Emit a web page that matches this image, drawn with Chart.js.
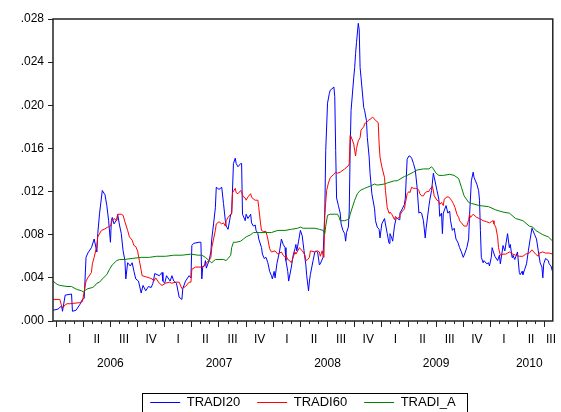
<!DOCTYPE html>
<html>
<head>
<meta charset="utf-8">
<script src="https://cdn.jsdelivr.net/npm/chart.js@4.4.1/dist/chart.umd.min.js"></script>
<style>
  html, body { margin: 0; padding: 0; background: #fff; }
  #wrap { width: 561px; height: 412px; }
</style>
</head>
<body>
<div id="wrap"><canvas id="chart" width="561" height="412"></canvas></div>
<script>
// x = months counted from the start of Jan 2006, y = value
const tradi20 = [
  [-0.35,.0010],[0.2,.0011],[0.6,.0014],[0.7,.0009],[1.0,.0024],[1.7,.0025],[1.8,.0009],[2.2,.0010],[2.6,.0015],[2.9,.0020],
  [3.1,.0021],[3.3,.0059],[3.5,.0063],[3.9,.0068],[4.2,.0076],[4.5,.0064],[4.6,.0081],[4.8,.0100],[5.1,.0121],[5.4,.0117],
  [5.6,.0107],[5.8,.0093],[6.0,.0073],[6.1,.0093],[6.2,.0096],[6.4,.0090],[6.7,.0094],[6.8,.0099],[7.0,.0089],[7.2,.0081],
  [7.4,.0065],[7.6,.0056],[7.7,.0039],[7.9,.0054],[8.2,.0051],[8.4,.0054],[8.6,.0046],[8.8,.0039],[9.1,.0037],[9.4,.0026],
  [9.6,.0033],[9.9,.0028],[10.2,.0032],[10.5,.0031],[10.7,.0035],[10.9,.0044],[11.4,.0042],[11.7,.0045],[11.8,.0037],[12.0,.0035],
  [12.2,.0042],[12.6,.0037],[12.8,.0042],[13.0,.0037],[13.3,.0035],[13.6,.0022],[13.9,.0020],[14.0,.0030],[14.3,.0037],[14.7,.0042],
  [14.9,.0040],[15.0,.0070],[15.2,.0072],[15.8,.0073],[16.0,.0073],[16.1,.0039],[16.2,.0050],[16.4,.0051],[16.5,.0056],[16.6,.0049],
  [16.9,.0056],[17.1,.0064],[17.2,.0076],[17.4,.0090],[17.6,.0105],[17.7,.0124],[18.0,.0122],[18.3,.0124],[18.5,.0109],[18.7,.0093],
  [18.8,.0088],[19.0,.0085],[19.3,.0099],[19.4,.0100],[19.6,.0146],[19.8,.0151],[19.9,.0146],[20.1,.0143],[20.4,.0146],[20.5,.0146],
  [20.6,.0099],[20.9,.0093],[21.0,.0099],[21.2,.0095],[21.5,.0099],[21.6,.0091],[21.8,.0088],[22.0,.0089],[22.1,.0084],[22.3,.0081],
  [22.4,.0076],[22.7,.0068],[22.8,.0062],[23.0,.0058],[23.2,.0059],[23.4,.0054],[23.6,.0046],[23.8,.0042],[23.9,.0039],[24.1,.0046],
  [24.2,.0040],[24.4,.0053],[24.7,.0065],[24.9,.0076],[25.1,.0071],[25.3,.0068],[25.4,.0056],[25.6,.0046],[25.7,.0037],[26.0,.0050],
  [26.2,.0061],[26.4,.0067],[26.5,.0071],[26.6,.0065],[26.8,.0074],[27.0,.0084],[27.2,.0079],[27.4,.0065],[27.6,.0052],[27.7,.0042],
  [27.9,.0028],[28.0,.0037],[28.1,.0043],[28.4,.0056],[28.6,.0064],[28.7,.0065],[28.9,.0064],[29.1,.0052],[29.2,.0053],[29.5,.0059],
  [29.7,.0102],[29.8,.0158],[30.0,.0202],[30.2,.0211],[30.3,.0214],[30.6,.0216],[30.7,.0217],[30.8,.0208],[30.9,.0158],[31.0,.0114],
  [31.2,.0107],[31.4,.0100],[31.5,.0090],[31.7,.0084],[31.9,.0081],[32.0,.0074],[32.1,.0082],[32.3,.0087],[32.4,.0102],[32.5,.0158],
  [32.6,.0195],[32.9,.0226],[33.0,.0235],[33.1,.0248],[33.2,.0258],[33.4,.0276],[33.5,.0270],[33.6,.0235],[33.7,.0226],[34.0,.0198],
  [34.1,.0195],[34.3,.0186],[34.4,.0170],[34.6,.0152],[34.7,.0137],[34.9,.0118],[35.2,.0104],[35.3,.0093],[35.5,.0087],[35.7,.0085],
  [35.8,.0077],[36.0,.0090],[36.3,.0095],[36.4,.0090],[36.6,.0081],[36.8,.0072],[36.9,.0081],[37.1,.0077],[37.2,.0074],[37.4,.0088],
  [37.6,.0096],[37.9,.0094],[38.0,.0100],[38.2,.0103],[38.5,.0108],[38.6,.0114],[38.8,.0150],[39.0,.0153],[39.1,.0153],[39.3,.0151],
  [39.5,.0146],[39.7,.0140],[39.9,.0124],[40.1,.0100],[40.2,.0101],[40.4,.0100],[40.6,.0093],[40.8,.0077],[40.9,.0086],[41.2,.0106],
  [41.3,.0112],[41.5,.0121],[41.7,.0137],[41.8,.0133],[42.1,.0121],[42.3,.0113],[42.4,.0097],[42.6,.0100],[42.7,.0081],[42.8,.0100],
  [43.1,.0107],[43.3,.0100],[43.5,.0102],[43.6,.0093],[43.8,.0084],[44.0,.0086],[44.2,.0076],[44.4,.0073],[44.6,.0068],[44.8,.0064],
  [45.0,.0059],[45.1,.0061],[45.4,.0068],[45.6,.0076],[45.7,.0098],[45.9,.0130],[46.1,.0138],[46.2,.0133],[46.5,.0127],[46.7,.0121],
  [46.8,.0112],[46.9,.0084],[47.0,.0059],[47.2,.0054],[47.3,.0056],[47.6,.0053],[47.8,.0054],[47.9,.0051],[48.1,.0059],[48.2,.0068],
  [48.3,.0065],[48.5,.0060],[48.8,.0056],[49.0,.0061],[49.1,.0053],[49.3,.0064],[49.4,.0070],[49.6,.0065],[49.9,.0081],[50.1,.0068],
  [50.2,.0071],[50.4,.0059],[50.5,.0061],[50.7,.0057],[51.0,.0064],[51.2,.0045],[51.3,.0043],[51.5,.0046],[51.6,.0043],[51.8,.0048],
  [52.0,.0053],[52.2,.0065],[52.4,.0076],[52.6,.0086],[52.7,.0084],[52.9,.0080],[53.1,.0076],[53.3,.0065],[53.5,.0054],[53.7,.0050],
  [53.8,.0040],[53.9,.0053],[54.1,.0058],[54.4,.0056],[54.5,.0053],[54.7,.0051],[54.9,.0045]
];

const tradi60 = [
  [-0.35,.0020],[0.4,.0020],[0.6,.0014],[0.7,.0012],[1.0,.0015],[1.2,.0016],[1.5,.0016],[2.6,.0017],[2.9,.0018],[3.3,.0037],
  [3.5,.0040],[3.9,.0045],[4.0,.0053],[4.2,.0059],[4.5,.0070],[4.6,.0078],[5.0,.0084],[5.3,.0085],[5.7,.0087],[6.0,.0088],
  [6.2,.0093],[6.4,.0095],[6.7,.0093],[6.8,.0099],[7.2,.0099],[7.4,.0098],[7.6,.0092],[7.9,.0084],[8.1,.0078],[8.4,.0075],
  [8.6,.0070],[8.8,.0069],[9.0,.0065],[9.2,.0056],[9.4,.0047],[9.5,.0042],[9.9,.0041],[10.3,.0040],[10.6,.0039],[10.8,.0037],
  [11.0,.0040],[11.4,.0035],[11.7,.0033],[12.1,.0035],[12.5,.0036],[12.8,.0035],[13.2,.0036],[13.6,.0036],[13.9,.0030],[14.3,.0032],
  [14.7,.0036],[14.9,.0036],[15.0,.0048],[15.4,.0050],[16.1,.0050],[16.5,.0052],[16.6,.0054],[16.9,.0056],[17.1,.0059],[17.2,.0068],
  [17.4,.0076],[17.6,.0084],[17.7,.0090],[18.0,.0092],[18.3,.0090],[18.5,.0091],[18.7,.0088],[18.8,.0093],[19.0,.0096],[19.3,.0099],
  [19.4,.0099],[19.5,.0119],[19.8,.0123],[19.9,.0119],[20.1,.0118],[20.4,.0121],[20.5,.0119],[20.7,.0115],[20.9,.0114],[21.0,.0112],
  [21.2,.0115],[21.5,.0118],[21.6,.0115],[21.8,.0113],[22.0,.0112],[22.3,.0112],[22.4,.0105],[22.6,.0090],[22.7,.0084],[22.9,.0083],
  [23.2,.0083],[23.4,.0076],[23.6,.0067],[23.8,.0064],[24.2,.0065],[24.5,.0062],[24.9,.0064],[25.1,.0061],[25.3,.0059],[25.4,.0061],
  [25.6,.0057],[25.8,.0056],[26.0,.0054],[26.2,.0059],[26.4,.0064],[26.5,.0062],[26.7,.0065],[26.9,.0068],[27.0,.0067],[27.3,.0064],
  [27.5,.0061],[27.6,.0056],[27.8,.0057],[28.0,.0059],[28.1,.0065],[28.6,.0064],[28.9,.0065],[29.1,.0064],[29.2,.0060],[29.4,.0065],
  [29.6,.0059],[29.7,.0099],[29.8,.0110],[29.9,.0121],[30.1,.0128],[30.3,.0133],[30.7,.0136],[30.9,.0138],[31.1,.0137],[31.4,.0138],
  [31.9,.0141],[32.3,.0144],[32.4,.0146],[32.5,.0172],[32.6,.0171],[32.9,.0164],[33.0,.0158],[33.1,.0153],[33.2,.0160],[33.4,.0167],
  [33.6,.0170],[33.7,.0177],[34.0,.0180],[34.1,.0183],[34.3,.0184],[34.5,.0186],[34.7,.0187],[35.0,.0189],[35.3,.0186],[35.6,.0184],
  [35.7,.0165],[35.8,.0152],[36.0,.0143],[36.3,.0133],[36.4,.0121],[36.6,.0105],[36.8,.0100],[36.9,.0101],[37.1,.0099],[37.4,.0094],
  [37.5,.0097],[37.7,.0095],[37.9,.0096],[38.0,.0098],[38.2,.0101],[38.5,.0104],[38.6,.0109],[38.8,.0118],[39.0,.0120],[39.1,.0119],
  [39.3,.0124],[39.5,.0123],[39.7,.0123],[39.9,.0123],[40.1,.0121],[40.2,.0118],[40.4,.0116],[40.6,.0116],[40.8,.0119],[41.0,.0120],
  [41.2,.0120],[41.3,.0122],[41.6,.0125],[41.8,.0116],[42.1,.0112],[42.3,.0111],[42.4,.0108],[42.6,.0110],[42.8,.0107],[42.9,.0113],
  [43.2,.0115],[43.4,.0115],[43.5,.0114],[43.7,.0112],[43.9,.0109],[44.1,.0105],[44.3,.0099],[44.5,.0096],[44.6,.0093],[44.8,.0091],
  [45.1,.0088],[45.4,.0088],[45.6,.0094],[45.7,.0099],[45.8,.0096],[46.1,.0099],[46.5,.0096],[46.8,.0095],[47.2,.0093],[47.6,.0092],
  [47.9,.0091],[48.1,.0092],[48.3,.0093],[48.4,.0090],[48.6,.0087],[48.8,.0078],[48.9,.0068],[49.1,.0061],[49.4,.0062],[49.7,.0062],
  [49.9,.0063],[50.1,.0064],[50.3,.0063],[50.5,.0062],[50.8,.0061],[51.2,.0060],[51.6,.0060],[51.9,.0062],[52.3,.0063],[52.6,.0066],
  [52.7,.0065],[53.0,.0062],[53.3,.0060],[53.4,.0063],[53.8,.0064],[54.1,.0063],[54.5,.0063],[54.9,.0062]
];

const tradiA = [
  [-0.35,.0037],[0.1,.0034],[0.4,.0033],[1.2,.0032],[1.7,.0032],[2.1,.0030],[2.4,.0029],[2.8,.0028],[3.0,.0027],[3.3,.0029],
  [3.5,.0030],[4.0,.0031],[4.2,.0032],[4.5,.0035],[4.8,.0036],[5.1,.0039],[5.6,.0043],[5.9,.0048],[6.2,.0052],[6.7,.0056],
  [7.0,.0057],[7.5,.0057],[8.4,.0058],[9.4,.0059],[10.3,.0059],[11.1,.0060],[12.1,.0060],[13.0,.0061],[13.9,.0061],[14.9,.0062],
  [15.7,.0061],[16.1,.0061],[16.5,.0059],[16.9,.0056],[17.2,.0054],[17.6,.0057],[18.0,.0057],[18.5,.0057],[18.8,.0056],[19.0,.0058],
  [19.3,.0061],[19.4,.0068],[19.6,.0073],[19.9,.0073],[20.4,.0074],[20.7,.0076],[21.0,.0078],[21.5,.0080],[21.8,.0082],[22.3,.0082],
  [23.1,.0082],[23.8,.0082],[24.5,.0084],[25.3,.0084],[26.0,.0085],[26.7,.0086],[27.0,.0087],[27.3,.0086],[27.8,.0086],[28.6,.0086],
  [29.1,.0085],[29.5,.0084],[29.7,.0081],[29.8,.0088],[30.0,.0098],[30.3,.0099],[30.8,.0099],[31.1,.0099],[31.3,.0096],[31.4,.0093],
  [31.9,.0093],[32.2,.0094],[32.4,.0095],[32.5,.0099],[33.0,.0112],[33.3,.0118],[33.6,.0121],[34.1,.0123],[34.4,.0124],[34.7,.0125],
  [35.2,.0127],[35.5,.0126],[36.3,.0127],[36.6,.0128],[37.4,.0130],[37.7,.0130],[38.5,.0134],[38.8,.0135],[39.5,.0138],[39.9,.0140],
  [40.6,.0141],[41.2,.0141],[41.5,.0143],[41.7,.0141],[42.0,.0137],[42.3,.0135],[42.8,.0135],[43.5,.0136],[44.0,.0135],[44.5,.0132],
  [44.8,.0124],[45.1,.0116],[45.6,.0110],[45.9,.0109],[46.8,.0107],[47.8,.0106],[48.6,.0103],[49.4,.0101],[50.1,.0100],[50.8,.0095],
  [51.6,.0093],[52.3,.0088],[52.7,.0087],[53.0,.0084],[53.4,.0082],[53.8,.0080],[54.4,.0078],[54.9,.0074]
];

const yTicks = [0, .004, .008, .012, .016, .020, .024, .028];
const monthTicks = Array.from({ length: 55 }, (_, i) => i);
const quarterPos = [1.5, 4.5, 7.5, 10.5, 13.5, 16.5, 19.5, 22.5, 25.5, 28.5, 31.5, 34.5, 37.5, 40.5, 43.5, 46.5, 49.5, 52.5, 54.7];
const quarterNames = ['I', 'II', 'III', 'IV', 'I', 'II', 'III', 'IV', 'I', 'II', 'III', 'IV', 'I', 'II', 'III', 'IV', 'I', 'II', 'III'];
const yearPos = [6, 18, 30, 42, 52.3];
const yearNames = ['2006', '2007', '2008', '2009', '2010'];

const X_MIN = -0.35, X_MAX = 54.9;
Chart.defaults.font.family = '"Liberation Sans", Arial, sans-serif';
Chart.defaults.color = '#000';

const toXY = arr => arr.map(([m, v]) => ({ x: m, y: v }));

// frame around the plot area and box around the legend
const framePlugin = {
    id: 'frame',
    afterDraw(chart) {
        const { ctx, chartArea: a } = chart;
        ctx.save();
        ctx.strokeStyle = '#222';
        ctx.lineWidth = 1.5;
        ctx.strokeRect(a.left, a.top, a.right - a.left, a.bottom - a.top);
        const boxes = chart.legend && chart.legend.legendHitBoxes;
        if (boxes && boxes.length) {
            const l = Math.min(...boxes.map(b => b.left)) - 8;
            const r = Math.max(...boxes.map(b => b.left + b.width)) + 12;
            const t = boxes[0].top + boxes[0].height / 2 - 10;
            ctx.lineWidth = 1;
            ctx.strokeStyle = '#000';
            ctx.strokeRect(Math.round(l) + 0.5, Math.round(t) + 0.5, Math.round(r - l), 40);
        }
        ctx.restore();
    }
};

const labelAxis = (weight, pos, names, height, padding) => ({
    type: 'linear', position: 'bottom', min: X_MIN, max: X_MAX, weight: weight,
    afterBuildTicks: s => { s.ticks = pos.map(v => ({ value: v })); },
    afterFit: s => { s.height = height; },
    ticks: { autoSkip: false, maxRotation: 0, minRotation: 0, padding: padding,
             font: { size: 12 }, callback: (v, i) => names[i] },
    grid: { display: false, drawTicks: false },
    border: { display: false }
});

const series = (label, data, color, order) => ({
    label: label, data: toXY(data), order: order,
    borderColor: color, backgroundColor: color,
    pointBorderColor: color, pointBackgroundColor: color
});

new Chart(document.getElementById('chart'), {
    type: 'line',
    data: {
        datasets: [
            series('TRADI20', tradi20, '#0000ff', 3),
            series('TRADI60', tradi60, '#ff0000', 2),
            series('TRADI_A', tradiA, '#008000', 1)
        ]
    },
    options: {
        responsive: false,
        animation: false,
        events: [],
        elements: { point: { radius: 0, borderWidth: 1 }, line: { borderWidth: 1, tension: 0, fill: false } },
        layout: { padding: { left: 0, right: 4, top: 19, bottom: 0 } },
        scales: {
            x: {
                type: 'linear', position: 'bottom', min: X_MIN, max: X_MAX, weight: 0,
                afterBuildTicks: s => { s.ticks = monthTicks.map(v => ({ value: v })); },
                afterFit: s => { s.height = 6; },
                ticks: { display: false },
                grid: {
                    drawOnChartArea: false, drawTicks: true, tickLength: 6, color: '#222', tickWidth: 1,
                    tickBorderDash: c => (c.tick && c.tick.value % 3 === 0) ? [] : [3, 20]
                },
                border: { display: false }
            },
            xq: labelAxis(1, quarterPos, quarterNames, 24, 5),
            xy: labelAxis(2, yearPos, yearNames, 21, 5),
            y: {
                position: 'left', min: 0, max: 0.028,
                afterBuildTicks: s => { s.ticks = yTicks.map(v => ({ value: v })); },
                afterFit: s => { s.width = 53; },
                ticks: { padding: 4, font: { size: 12 }, callback: v => v.toFixed(3).slice(1) },
                grid: { drawOnChartArea: false, drawTicks: true, tickLength: 5, color: '#222' },
                border: { display: false }
            }
        },
        plugins: {
            legend: {
                position: 'bottom',
                labels: { usePointStyle: true, pointStyle: 'line', pointStyleWidth: 30, padding: 17,
                          font: { size: 13 }, color: '#000',
                          sort: (a, b) => a.datasetIndex - b.datasetIndex }
            },
            tooltip: { enabled: false }
        }
    },
    plugins: [framePlugin, {
        // shift the legend block: EViews centres it under the plot area and a little lower
        id: 'legendPlace',
        afterLayout(chart) {
            const lg = chart.legend;
            if (!lg) return;
            const dx = (chart.chartArea.left + chart.chartArea.right) / 2 - (lg.left + lg.right) / 2;
            lg.left += dx; lg.right += dx;
            lg.top += 7; lg.bottom += 7;
        }
    }]
});
</script>
</body>
</html>
